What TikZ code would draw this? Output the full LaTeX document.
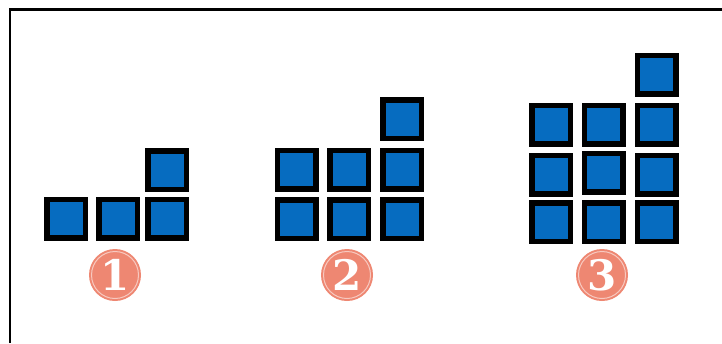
\documentclass[tikz,border=0pt]{standalone}
\usepackage{fontspec}
\usepackage{xcolor}
\usetikzlibrary{positioning}
\newfontfamily\digitfont{DejaVu Serif}
\definecolor{tileblue}{HTML}{066CC0}
\definecolor{salmon}{HTML}{EE8772}

\begin{document}
\begin{tikzpicture}[x=1pt,y=-1pt]
\tikzset{
  tile/.style={draw=black,line width=5.5pt,fill=tileblue,minimum size=38.5pt,inner sep=0pt},
  badge/.style={circle,fill=salmon,minimum size=52pt,inner sep=0pt,text=white,font=\digitfont\bfseries\fontsize{42}{42}\selectfont},
  ring/.style={draw=white!55!salmon,line width=1pt}
}
\useasboundingbox (0,0) rectangle (722,343);
\draw[line width=2.8pt] (10,343) -- (10,9.5) -- (722,9.5);

% step 1
\foreach \x/\y/\n in {66/218.5/a,118/218.5/b,167/218.5/c,167/170/d} {
  \node[tile] (one\n) at (\x,\y) {};
}
% step 2
\foreach \x/\y/\n in {296.5/219/a,349/219/b,402/219/c,296.5/169.5/d,349/169.5/e,402/169.5/f,402/119/g} {
  \node[tile] (two\n) at (\x,\y) {};
}
% step 3
\foreach \x/\y/\n in {551/222/a,603.5/222/b,656.5/222/c,551/174.5/d,603.5/172.5/e,656.5/174.5/f,551/124.5/g,603.5/124.5/h,656.5/124.5/i,656.5/74.5/j} {
  \node[tile] (three\n) at (\x,\y) {};
}

% badges
\foreach \x/\lab/\n in {115/1/one,347/2/two,602/3/three} {
  \node[badge] (badge\n) at (\x,275) {\lab};
  \draw[ring] (badge\n) circle (23.5pt);
}
\end{tikzpicture}
\end{document}
